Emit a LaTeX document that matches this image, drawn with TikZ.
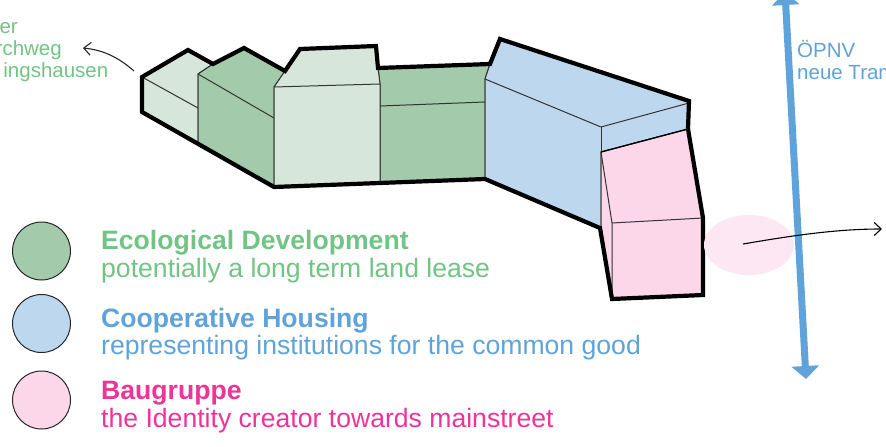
\documentclass[tikz,border=0pt]{standalone}
\usepackage{fontspec}
\setmainfont{Liberation Sans}
\usetikzlibrary{arrows.meta,shapes.geometric}

\definecolor{greenfill}{HTML}{A3CAAB}
\definecolor{palefill}{HTML}{D6E6DA}
\definecolor{bluefill}{HTML}{BCD7EE}
\definecolor{pinkfill}{HTML}{FBD7E9}
\definecolor{greentext}{HTML}{72C485}
\definecolor{bluetext}{HTML}{5FA3DA}
\definecolor{pinktext}{HTML}{EE3399}

\tikzset{
    face/.style={draw=black!80, line width=1pt, line join=round},
    outline/.style={draw=black, line width=4.2pt, line join=miter},
    swatch/.style={circle, draw=black!85, line width=1pt, minimum size=58pt, inner sep=0pt},
    caption/.style={anchor=base west, inner sep=0pt, font=\fontsize{26.6}{30}\selectfont},
    note/.style={inner sep=0pt, font=\fontsize{20.5}{24}\selectfont},
    thinarrow/.style={-{Straight Barb[length=7pt,width=13pt]}, line width=1.1pt, black!85},
}

\begin{document}
\begin{tikzpicture}[x=1pt, y=-1pt]
    \useasboundingbox (0,0) rectangle (886,447);

    % building
    \fill[face, fill=palefill] (142,77) -- (188,50) -- (213,64) -- (198,74) -- (198,142) -- (142,112) -- cycle;
    \fill[face, fill=greenfill] (198,74) -- (213,64) -- (244,48) -- (285,71) -- (274,87) -- (274,187) -- (198,142) -- cycle;
    \fill[face, fill=greenfill] (378,68) -- (490,64) -- (485,79) -- (485,179) -- (380,182) -- (380,84) -- cycle;
    \fill[face, fill=palefill] (274,87) -- (285,71) -- (300,49) -- (376,46) -- (378,68) -- (380,84) -- (380,182) -- (274,187) -- cycle;
    \fill[face, fill=bluefill] (485,79) -- (490,64) -- (500,39) -- (689,101) -- (688,129) -- (601,152) -- (601,228) -- (485,179) -- cycle;
    \fill[face, fill=pinkfill] (601,152) -- (688,129) -- (703,218) -- (703,295) -- (612,299) -- (601,228) -- cycle;

    \draw[face] (142,77) -- (198,108);
    \draw[face] (198,74) -- (274,118);
    \draw[face] (274,87) -- (380,84);
    \draw[face] (380,106) -- (485,102);
    \draw[face] (485,79) -- (601,127) -- (689,103);
    \draw[face] (601,127) -- (601,152);
    \draw[face] (601,152) -- (612,223) -- (612,299);
    \draw[face] (612,223) -- (703,218);
    \draw[black, line width=1.3pt] (601,152) -- (688,129);

    \draw[outline] (142,77) -- (188,50) -- (213,64) -- (244,48) -- (285,71) -- (300,49) -- (376,46)
        -- (378,68) -- (490,64) -- (500,39) -- (689,101) -- (688,129) -- (703,218) -- (703,295)
        -- (612,299) -- (600,228) -- (485,179) -- (274,187) -- (142,112) -- cycle;

    % tram line
    \node[ellipse, fill=pinkfill!60, minimum width=90pt, minimum height=60pt, inner sep=0pt] (stop) at (749,245) {};
    \coordinate (tramtop) at (785,-8);
    \coordinate (trambottom) at (806,379);
    \draw[{Triangle[width=27pt,length=13pt]}-{Triangle[width=27pt,length=13pt]}, line width=7pt, bluetext]
        (tramtop) -- (trambottom);

    \coordinate (stopstart) at (743,244);
    \coordinate (stopend) at (882,229);
    \draw[thinarrow, black] (stopstart) .. controls (790,236) and (835,229) .. (stopend);

    % north west label
    \node[note, anchor=base east, text=greentext] (labelone) at (18,33) {er};
    \node[note, anchor=base east, text=greentext] (labeltwo) at (62,55) {rchweg};
    \node[note, anchor=base east, text=greentext] (labelthree) at (108.5,77) {ingshausen};
    \coordinate (blockcorner) at (134,71);
    \coordinate (labelend) at (83,48);
    \draw[thinarrow] (blockcorner) .. controls (118,57) and (103,50) .. (labelend);

    \node[note, anchor=base west, text=bluetext] (tramone) at (797,57) {ÖPNV};
    \node[note, anchor=base west, text=bluetext] (tramtwo) at (797,79) {neue Tram};

    % legend
    \node[swatch, fill=greenfill] (swatchgreen) at (41.5,251) {};
    \node[swatch, fill=bluefill] (swatchblue) at (41.5,323.5) {};
    \node[swatch, fill=pinkfill] (swatchpink) at (41.5,400) {};

    \node[caption, text=greentext] (ecotitle) at (101,249) {\textbf{Ecological Development}};
    \node[caption, text=greentext] (ecotext) at (101,277) {potentially a long term land lease};
    \node[caption, text=bluetext] (cooptitle) at (101,327) {\textbf{Cooperative Housing}};
    \node[caption, text=bluetext] (cooptext) at (101,354) {representing institutions for the common good};
    \node[caption, text=pinktext] (bautitle) at (101,399) {\textbf{Baugruppe}};
    \node[caption, text=pinktext] (bautext) at (101,427) {the Identity creator towards mainstreet};
\end{tikzpicture}
\end{document}
